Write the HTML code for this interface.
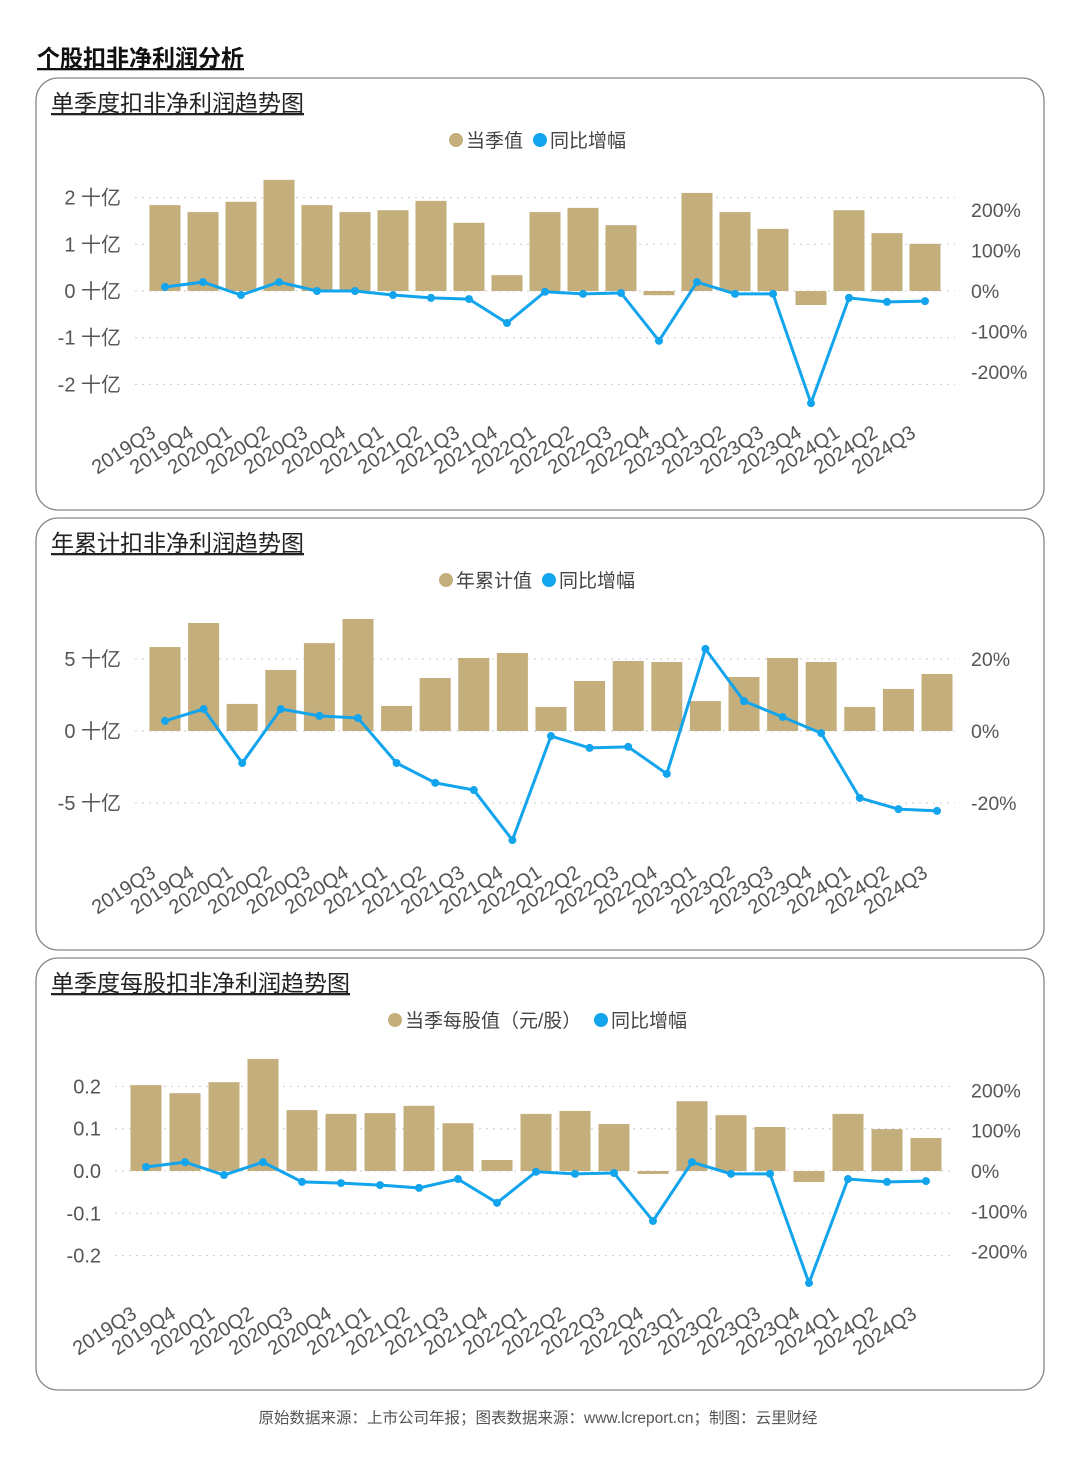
<!DOCTYPE html>
<html><head><meta charset="utf-8">
<style>
body{margin:0;background:#fff;width:1080px;height:1477px;overflow:hidden;font-family:"Liberation Sans","Noto Sans CJK SC",sans-serif;}
svg{position:absolute;left:0;top:0}
</style></head>
<body>
<svg id="s" width="1080" height="1477" xmlns="http://www.w3.org/2000/svg">
<text x="37" y="66" font-size="23" font-weight="bold" fill="#111" text-decoration="underline">个股扣非净利润分析</text>
<text x="538" y="1423" font-size="15.5" fill="#555" text-anchor="middle">原始数据来源：上市公司年报；图表数据来源：www.lcreport.cn；制图：云里财经</text>
</svg>
<script>
const categories=["2019Q3","2019Q4","2020Q1","2020Q2","2020Q3","2020Q4","2021Q1","2021Q2","2021Q3","2021Q4","2022Q1","2022Q2","2022Q3","2022Q4","2023Q1","2023Q2","2023Q3","2023Q4","2024Q1","2024Q2","2024Q3"];
const q_values=[1.84,1.69,1.91,2.38,1.84,1.69,1.73,1.93,1.46,0.34,1.69,1.78,1.41,-0.09,2.10,1.69,1.33,-0.30,1.73,1.24,1.01];
const q_growth=[10,22,-10,22,0,0,-10,-17,-20,-79,-2,-7,-5,-123,22,-7,-7,-277,-17,-27,-25];
const y_values=[5.83,7.5,1.88,4.24,6.1,7.78,1.74,3.68,5.07,5.42,1.67,3.47,4.86,4.79,2.08,3.75,5.07,4.79,1.67,2.92,3.96];
const y_growth=[2.8,6.1,-8.9,6.1,4.2,3.6,-8.9,-14.4,-16.4,-30.3,-1.4,-4.7,-4.4,-11.9,22.8,8.3,3.9,-0.6,-18.6,-21.7,-22.2];
const e_values=[0.203,0.184,0.21,0.265,0.144,0.135,0.137,0.154,0.113,0.026,0.135,0.142,0.111,-0.007,0.165,0.132,0.104,-0.026,0.135,0.099,0.078];
const e_growth=[10,22,-10,22,-27,-30,-35,-42,-20,-79,-2,-7,-5,-124,22,-7,-7,-278,-20,-27,-25];
const q_left_ticks=[2,1,0,-1,-2];
const q_left_labels=["2 十亿","1 十亿","0 十亿","-1 十亿","-2 十亿"];
const q_right_ticks=[200,100,0,-100,-200];
const y_left_ticks=[5,0,-5];
const y_left_labels=["5 十亿","0 十亿","-5 十亿"];
const y_right_ticks=[20,0,-20];
const e_left_ticks=[0.2,0.1,0,-0.1,-0.2];
const e_left_labels=["0.2","0.1","0.0","-0.1","-0.2"];
const e_right_ticks=[200,100,0,-100,-200];

const NS="http://www.w3.org/2000/svg";
const svg=document.getElementById('s');
function mk(tag,attrs,parent,text){const e=document.createElementNS(NS,tag);for(const k in attrs)e.setAttribute(k,attrs[k]);if(text!=null)e.textContent=text;(parent||svg).appendChild(e);return e;}

function chart(o){
  const g=mk('g',{});
  
  
  const box=mk('rect',{x:36,y:o.top,width:1008,height:432,rx:22,fill:'none',stroke:'#888','stroke-width':1.3},g);
  
  
  const t=mk('text',{x:51,y:o.top+33,'font-size':23,fill:'#222','text-decoration':'underline'},g,o.title);
  
  
  const lg=mk('g',{},g);
  
  
  mk('circle',{cx:o.legX,cy:o.top+62,r:7,fill:'#c4ae7c'},lg);
  const l1=mk('text',{x:o.legX+10,y:o.top+69,'font-size':19,fill:'#444'},lg,o.leg1);
  
  
  mk('circle',{cx:o.leg2X,cy:o.top+62,r:7,fill:'#12a4ec'},lg);
  const l2=mk('text',{x:o.leg2X+10,y:o.top+69,'font-size':19,fill:'#444'},lg,'同比增幅');
  
  
  const yL=v=>o.y0-v*o.ls, yR=v=>o.y0-v*o.rs, xc=i=>o.x0+i*o.dx;
  o.lt.forEach((v,i)=>{
    const gl=mk('line',{x1:o.gx1,x2:o.gx2,y1:yL(v),y2:yL(v),stroke:'#ccc','stroke-dasharray':'2 5'},g);
    
    
    const tl=mk('text',{x:o.lx,y:yL(v)+7,'font-size':20,fill:'#555','text-anchor':'end'},g,o.ll[i]);
    
    
  });
  o.rt.forEach(v=>{
    const tl=mk('text',{x:971,y:yR(v)+7,'font-size':19.5,fill:'#555'},g,v+'%');
    
    
  });
  o.bars.forEach((v,i)=>{
    const y=Math.min(yL(v),o.y0),h=Math.abs(yL(v)-o.y0);
    const b=mk('rect',{x:xc(i)-15.5,y:y,width:31,height:Math.max(h,0.5),fill:'#c4ae7c'},g);
    
    
  });
  const pts=o.line.map((v,i)=>xc(i)+','+yR(v)).join(' ');
  const pl=mk('polyline',{points:pts,fill:'none',stroke:'#12a4ec','stroke-width':3},g);
  
  
  o.line.forEach((v,i)=>{
    const c=mk('circle',{cx:xc(i),cy:yR(v),r:4,fill:'#12a4ec'},g);
    
    
  });
  categories.forEach((c,i)=>{
    const x=xc(i)-8,y=o.lby;
    const tl=mk('text',{x:x,y:y,'font-size':20,fill:'#555','text-anchor':'end',transform:`rotate(-33 ${x} ${y})`},g,c);
    
    
  });
}
chart({name:'quarterly-profit-chart',top:78,title:'单季度扣非净利润趋势图',leg1:'当季值',legX:456,leg2X:540,
  y0:291,ls:46.7,rs:0.405,x0:165,dx:38,gx1:135,gx2:955,lx:121,lt:q_left_ticks,ll:q_left_labels,rt:q_right_ticks,
  bars:q_values,line:q_growth,lby:436});
chart({name:'ytd-profit-chart',top:518,title:'年累计扣非净利润趋势图',leg1:'年累计值',legX:446,leg2X:549,
  y0:731,ls:14.4,rs:3.6,x0:165,dx:38.6,gx1:135,gx2:955,lx:121,lt:y_left_ticks,ll:y_left_labels,rt:y_right_ticks,
  bars:y_values,line:y_growth,lby:876});
chart({name:'eps-chart',top:958,title:'单季度每股扣非净利润趋势图',leg1:'当季每股值（元/股）',legX:395,leg2X:601,
  y0:1171,ls:423,rs:0.403,x0:146,dx:39,gx1:115,gx2:955,lx:101,lt:e_left_ticks,ll:e_left_labels,rt:e_right_ticks,
  bars:e_values,line:e_growth,lby:1317});
</script>
</body></html>
